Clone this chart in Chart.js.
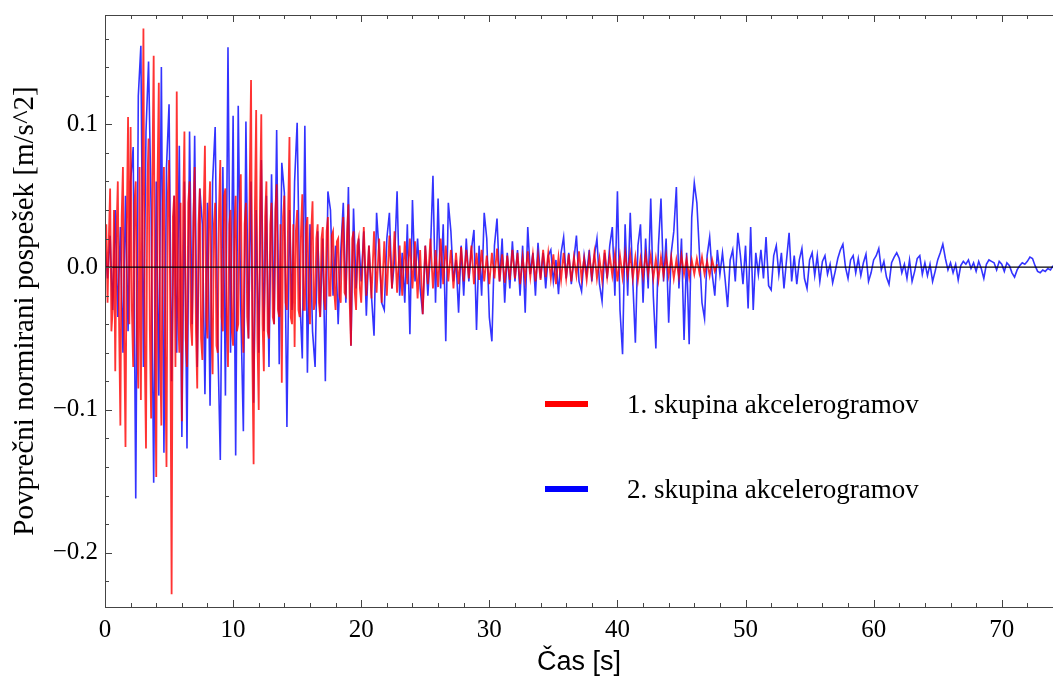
<!DOCTYPE html>
<html>
<head>
<meta charset="utf-8">
<script src="https://cdn.jsdelivr.net/npm/chart.js@4.4.1/dist/chart.umd.min.js"></script>
<style>
  body { margin: 0; background: #fff; }
  #wrap { position: relative; width: 1053px; height: 682px; }
  .legend-item { position: absolute; left: 545px; height: 30px; display: flex; align-items: center;
    font: 27px "Liberation Serif", serif; color: #000; white-space: nowrap; }
  .swatch { width: 43px; height: 6px; margin-right: 39px; }
</style>
</head>
<body>
<div id="wrap">
  <canvas class="js-chart" width="1053" height="682"></canvas>
  <div class="legend-item" style="top:389px"><span class="swatch" style="background:#ff0000"></span>1. skupina akcelerogramov</div>
  <div class="legend-item" style="top:474px"><span class="swatch" style="background:#0000ff"></span>2. skupina akcelerogramov</div>
</div>
<script>
const ctx = document.querySelector('.js-chart').getContext('2d');

// values below are in 0.001 m/s^2
const X_MIN = 0;
const X_MAX = 74;
const Y_MIN = -0.238;
const Y_MAX = 0.1765;
const X_TICKS = [0, 10, 20, 30, 40, 50, 60, 70];
const Y_TICKS = [-0.2, -0.1, 0, 0.1];

// 1. skupina akcelerogramov, 0 - 19.9 s, step 0.1 s
const GROUP1_EARLY_START = 0;
const GROUP1_EARLY_STEP = 0.1;
const group1Early = [
    5, 30, -25, 20, 55, -45, -30, 40, -73, 25,
    60, -40, -111, 35, 70, -50, -126, 30, 105, -40,
    98, -30, -70, 45, 60, -50, -85, 70, -93, 40,
    167, -60, -127, 55, 90, -45, -106, 65, 148, -50,
    -147, 60, 129, -55, -111, 40, 70, -65, -140, 50,
    75, -40, -229, 35, 50, -70, 123, -30, -60, 45,
    -108, 40, 95, -50, -70, 45, 60, -40, -55, 35,
    70, -45, -85, 30, 55, -50, -65, 40, 85, -35,
    -50, 35, 60, -40, -75, 30, 45, -55, -60, 40,
    75, -35, -45, 50, 55, -40, -70, 30, 40, -45,
    -55, 30, 50, -45, -40, 35, 65, -40, -60, 30,
    45, -35, -50, 60, 131, -60, -138, 40, 110, -50,
    -100, 45, 107, -40, -73, 35, 60, -45, -50, 30,
    45, -35, -40, 40, 58, -30, -35, 30, -81, 35,
    50, -25, -30, 40, 91, -35, -40, 30, -56, 25,
    40, -30, -35, 25, 51, -30, -30, 28, 35, -25,
    -40, 25, 46, -30, -25, 20, 30, -25, -35, 20,
    28, -22, -30, 25, 35, -20, -20, 22, 25, -18,
    -30, 18, 20, -20, -25, 22, 35, -18, -20, 25,
    44, -25, -55, 20, 25, -18, -30, 15, 20, -15
];

// 1. skupina akcelerogramov, 20 - 47.8 s, step 0.2 s
const GROUP1_LATE_START = 20;
const GROUP1_LATE_STEP = 0.2;
const group1Late = [
    -25, 28, -20, 15, -22, 25, -18, 20, -25, 18,
    -20, 22, -15, 25, -18, 15, -20, 18, -12, 20,
    -15, 18, -22, 12, -33, 15, -12, 20, -15, 12,
    -14, 20, -12, 15, -10, 12, -15, 10, -12, 14,
    -10, 12, -8, 15, -12, 10, -9, 12, -10, 8,
    -12, 10, -8, 13, -10, 9, -11, 8, -9, 12,
    -8, 10, -12, 7, -9, 11, -7, 9, -10, 8,
    -9, 12, -7, 10, -8, 9, -12, 7, -9, 10,
    -8, 9, -10, 7, -6, 11, -8, 6, -9, 8,
    -7, 10, -8, 6, -9, 12, -7, 8, -6, 9,
    -10, 8, -7, 10, -6, 9, -8, 7, -9, 6,
    -7, 9, -5, 8, -8, 6, -9, 7, -6, 8,
    -6, 7, -8, 5, -7, 8, -5, 6, -7, 5,
    -5, 6, -4, 7, -5, 4, -6, 5, -3, 2
];

// 2. skupina akcelerogramov, 0 - 74 s, step 0.2 s
const GROUP2_START = 0;
const GROUP2_STEP = 0.2;
const group2 = [
    15, -8, 22, -30, 40, -35, 28, -60, 50, -45,
    60, 84, -162, 120, 155, -70, 95, 144, 40, -151,
    60, -90, 140, -130, 70, 114, -80, 50, -60, 85,
    -119, 60, -127, 95, -40, 92, -70, 55, 30, -89,
    45, -97, 60, 98, -50, -135, 70, -90, 154, -60,
    106, -132, 113, -30, -115, 102, -50, 60, -95, 40,
    -60, 75, -45, 50, -70, 65, -40, 96, -68, 73,
    52, -112, 40, -30, 60, 101, -20, -64, 99, -74,
    30, -45, -70, 25, -35, 20, -80, 53, 40, -20,
    15, -40, 10, 45, -25, 56, -55, 41, -15, 20,
    -10, 25, -34, 15, -20, -48, 38, 10, -25, -30,
    20, 38, -15, 5, 53, -20, 10, -25, 30, -47,
    47, -10, 20, -15, -33, 15, -20, 10, 64, -25,
    48, -15, 30, -52, 45, 25, -10, 5, -32, 15,
    -20, 20, -10, 12, 26, -44, 15, -20, 38, 20,
    -35, -52, 15, 34, -10, 20, -25, 10, -15, 18,
    -10, 12, -20, 15, -32, 28, -5, 10, -20, 17,
    -8, 10, -15, 8, 12, -10, 5, -19, 10, 21,
    -8, 10, -12, 5, 22, -10, -17, 8, -5, 12,
    -10, 8, 20, -12, -24, 10, -8, 15, 28, -20,
    53, -30, -61, 30, -20, 38, -10, -53, 15, 30,
    -25, 20, -15, 48, -20, -57, 15, 48, -10, 20,
    -39, 10, 25, 56, -15, 20, -51, 10, -54, 35,
    59, 45, 10, -25, -36, 8, 21, -5, -20, 12,
    -5, 10, -8, -28, 5, 12, -10, 24, 8, -12,
    15, -29, 28, -30, 10, -5, 12, -8, 21, -13,
    -16, 8, 15, -5, 10, -15, 5, 24, -10, 8,
    -12, 5, 13, -8, -15, 5, 10, -6, 8, -10,
    4, 8, -5, 2, -11, -3, 6, 12, 16, 0,
    -8, 5, 8, -4, 6, -6, 3, 9, -10, -4,
    5, 8, 13, -2, 4, -7, -12, 3, 7, 10,
    6, -4, 2, -8, 5, -10, -3, 6, 8, -5,
    3, -6, 2, -10, -3, 5, 10, 16, 6, -2,
    3, -4, 2, -9, 1, 4, 2, 5, -1, 3,
    -3, 4, -1, -8, 2, 5, 4, 3, -2, 4,
    2, -3, 3, 1, -4, -7, -2, 1, 3, 2,
    4, 7, 6, 1, -3, -4, -2, -3, -1, -2,
    1
];

function toPoints(values, start, step) {
    return values.map((v, i) => ({ x: +(start + i * step).toFixed(2), y: v / 1000 }));
}

function formatY(value) {
    const v = Math.round(value * 10) / 10;
    return (v < 0 ? '\u2212' : '') + Math.abs(v).toFixed(1);
}

// Mathematica-like frame: inward ticks, zero line over the data
const frameTicks = {
    id: 'frameTicks',
    afterDatasetsDraw(chart) {
        const { ctx, chartArea: a, scales: { x, y } } = chart;
        const line = (x1, y1, x2, y2) => { ctx.beginPath(); ctx.moveTo(x1, y1); ctx.lineTo(x2, y2); ctx.stroke(); };
        ctx.save();
        ctx.strokeStyle = '#000';
        ctx.lineWidth = 1.2;
        const y0 = y.getPixelForValue(0);
        line(a.left, y0, a.right, y0);

        ctx.strokeStyle = '#444';
        ctx.lineWidth = 1;
        ctx.strokeRect(a.left + 0.5, a.top + 0.5, a.right - a.left, a.bottom - a.top);
        for (let v = X_MIN; v <= X_MAX; v += 2) {
            const px = Math.round(x.getPixelForValue(v)) + 0.5;
            const len = v % 10 === 0 ? 7 : 4;
            line(px, a.bottom, px, a.bottom - len);
            line(px, a.top, px, a.top + len);
        }
        for (let k = -11; k <= 8; k++) {
            const py = Math.round(y.getPixelForValue(k * 0.02)) + 0.5;
            const len = k % 5 === 0 ? 7 : 4;
            line(a.left, py, a.left + len, py);
        }
        ctx.restore();
    }
};

const group1Points = toPoints(group1Early, GROUP1_EARLY_START, GROUP1_EARLY_STEP)
    .concat(toPoints(group1Late, GROUP1_LATE_START, GROUP1_LATE_STEP));

new Chart(ctx, {
    type: 'line',
    data: {
        datasets: [
            {
                label: '1. skupina akcelerogramov',
                data: group1Points,
                borderColor: 'rgba(255, 0, 0, 0.8)',
                borderWidth: 1.8,
                pointRadius: 0,
                order: 1,
            },
            {
                label: '2. skupina akcelerogramov',
                data: toPoints(group2, GROUP2_START, GROUP2_STEP),
                borderColor: 'rgba(0, 0, 255, 0.8)',
                borderWidth: 1.6,
                pointRadius: 0,
                order: 2,
            },
        ]
    },
    options: {
        responsive: false,
        animation: false,
        layout: { padding: { top: 15, right: 0, bottom: 0, left: 0 } },
        plugins: { legend: { display: false }, tooltip: { enabled: false } },
        scales: {
            x: {
                type: 'linear',
                min: X_MIN,
                max: X_MAX,
                afterFit(scale) { scale.height = 75; scale.paddingLeft = 0; scale.paddingRight = 0; },
                afterBuildTicks(scale) { scale.ticks = X_TICKS.map(value => ({ value })); },
                grid: { display: false, drawTicks: false },
                border: { display: false },
                ticks: {
                    padding: 8,
                    maxRotation: 0,
                    autoSkip: false,
                    color: '#000',
                    font: { family: 'Liberation Serif', size: 25 },
                },
                title: {
                    display: true,
                    text: 'Čas [s]',
                    color: '#000',
                    font: { family: 'Liberation Sans', size: 27 },
                    padding: { top: 0, bottom: 3 },
                },
            },
            y: {
                min: Y_MIN,
                max: Y_MAX,
                afterFit(scale) { scale.width = 105; scale.paddingTop = 0; scale.paddingBottom = 0; },
                afterBuildTicks(scale) { scale.ticks = Y_TICKS.map(value => ({ value })); },
                grid: { display: false, drawTicks: false },
                border: { display: false },
                ticks: {
                    padding: 7,
                    autoSkip: false,
                    color: '#000',
                    font: { family: 'Liberation Serif', size: 25 },
                    callback(value) { return formatY(value); },
                },
                title: {
                    display: true,
                    text: 'Povprečni normirani pospešek [m/s^2]',
                    color: '#000',
                    font: { family: 'Liberation Serif', size: 29 },
                    padding: { top: 8, bottom: 0 },
                },
            },
        },
    },
    plugins: [frameTicks],
});
</script>
</body>
</html>
